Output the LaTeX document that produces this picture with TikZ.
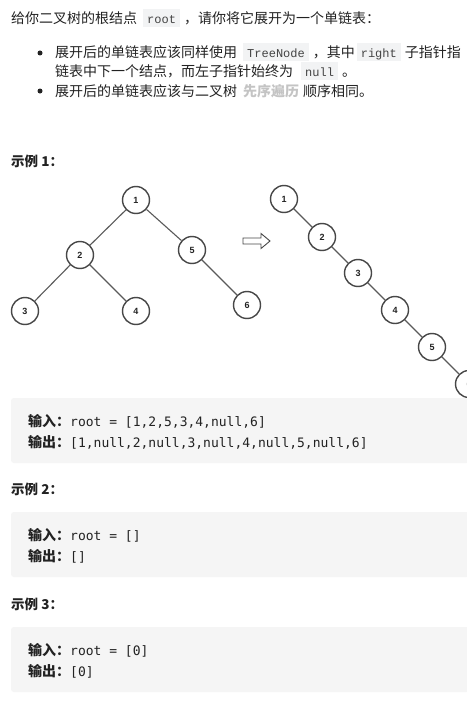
\documentclass[tikz,border=0pt]{standalone}
\usepackage{fontspec}
\setmainfont{Noto Sans CJK SC}
\newfontfamily\codefont{DejaVu Sans Mono}
\newfontfamily\icodefont{Liberation Mono}
\newfontfamily\numfont{Liberation Sans}
\definecolor{txt}{HTML}{222222}
\definecolor{icodebg}{HTML}{F2F3F4}
\definecolor{icodefg}{HTML}{444444}
\definecolor{codebg}{HTML}{F5F5F5}
\definecolor{linkc}{HTML}{C4C4C4}
\definecolor{treeline}{HTML}{5A5A5A}
\definecolor{circ}{HTML}{474747}
\newcommand\icode[1]{\begingroup\setlength\fboxsep{0pt}\colorbox{icodebg}{\rule[-3pt]{0pt}{18pt}\hspace{4pt}{\icodefont\fontsize{12}{12}\selectfont\color{icodefg}#1}\hspace{4pt}}\endgroup}
\tikzset{
  txt/.style={anchor=base west, inner sep=0pt, text=txt, font=\fontsize{14}{14}\selectfont},
  head/.style={txt, font=\fontsize{13.5}{13.5}\selectfont\bfseries},
  codeline/.style={txt, font=\fontsize{14}{14}\selectfont},
  dotb/.style={circle, fill=txt, inner sep=0pt, minimum size=5pt},
  tn/.style={circle, draw=circ, line width=1.4pt, fill=white, minimum size=27pt, inner sep=0pt, text=txt, font=\numfont\bfseries\fontsize{9}{9}\selectfont},
  te/.style={draw=treeline, line width=1.1pt},
}
\begin{document}
\begin{tikzpicture}[x=1pt,y=-1pt]
\useasboundingbox (0,0) rectangle (466,701);
\fill[white] (0,0) rectangle (466,701);
% intro
\node[txt] (l1) at (11,24) {给你二叉树的根结点\hspace{6pt}\icode{root}\hspace{4pt}，请你将它展开为一个单链表：};
\node[dotb] (b1) at (40,53) {};
\node[txt] (l2) at (55,58) {展开后的单链表应该同样使用\hspace{6pt}\icode{TreeNode}\hspace{4pt}，其中\hspace{2pt}\icode{right}\hspace{4pt}子指针指};
\node[txt] (l3) at (55,77) {链表中下一个结点，而左子指针始终为\hspace{8pt}\icode{null}\hspace{4pt}。};
\node[dotb] (b2) at (40,91) {};
\node[txt] (l4) at (55,96) {展开后的单链表应该与二叉树\hspace{6pt}{\bfseries\color{linkc}先序遍历}\hspace{4pt}顺序相同。};
% example 1
\node[head] (h1) at (11,166) {示例 1：};
\node[tn] (a1) at (136,200) {1};
\node[tn] (a2) at (80,255) {2};
\node[tn] (a5) at (192,250) {5};
\node[tn] (a3) at (25,311) {3};
\node[tn] (a4) at (136,311) {4};
\node[tn] (a6) at (247,305) {6};
\draw[te] (a1) -- (a2);
\draw[te] (a1) -- (a5);
\draw[te] (a2) -- (a3);
\draw[te] (a2) -- (a4);
\draw[te] (a5) -- (a6);
% hollow arrow
\draw[draw=circ, line width=0.9pt, line join=miter, fill=white]
  (243,238) -- (261,238) -- (261,233.5) -- (270,241) -- (261,248.5) -- (261,244) -- (243,244) -- cycle;
% chain
\node[tn] (c1) at (284,199) {1};
\node[tn] (c2) at (322,237) {2};
\node[tn] (c3) at (358,273) {3};
\node[tn] (c4) at (395,310) {4};
\node[tn] (c5) at (432,347) {5};
\node[tn] (c6) at (469,384) {6};
\draw[te] (c1) -- (c2);
\draw[te] (c2) -- (c3);
\draw[te] (c3) -- (c4);
\draw[te] (c4) -- (c5);
\draw[te] (c5) -- (c6);
% code box 1
\fill[codebg, rounded corners=3pt] (11,398) rectangle (490,463);
\node[codeline] (i1) at (28,426) {\textbf{输入：}{\codefont\fontsize{13}{13}\selectfont root = [1,2,5,3,4,null,6]}};
\node[codeline] (o1) at (28,447) {\textbf{输出：}{\codefont\fontsize{13}{13}\selectfont [1,null,2,null,3,null,4,null,5,null,6]}};
% example 2
\node[head] (h2) at (11,494) {示例 2：};
\fill[codebg, rounded corners=3pt] (11,512) rectangle (490,577);
\node[codeline] (i2) at (28,540) {\textbf{输入：}{\codefont\fontsize{13}{13}\selectfont root = []}};
\node[codeline] (o2) at (28,561) {\textbf{输出：}{\codefont\fontsize{13}{13}\selectfont []}};
% example 3
\node[head] (h3) at (11,609) {示例 3：};
\fill[codebg, rounded corners=3pt] (11,627) rectangle (490,692);
\node[codeline] (i3) at (28,655) {\textbf{输入：}{\codefont\fontsize{13}{13}\selectfont root = [0]}};
\node[codeline] (o3) at (28,676) {\textbf{输出：}{\codefont\fontsize{13}{13}\selectfont [0]}};
\end{tikzpicture}
\end{document}
